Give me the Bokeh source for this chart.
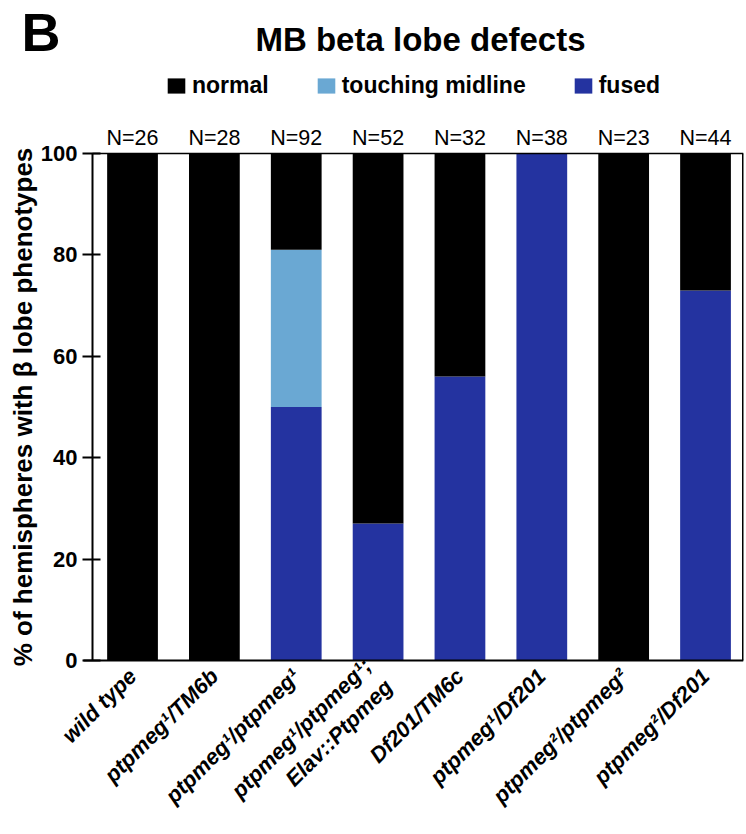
import math
from bokeh.plotting import figure
from bokeh.models import (Range1d, FixedTicker, Legend, LegendItem, ColumnDataSource, LinearAxis)
from bokeh.core.properties import value
from bokeh.embed import file_html
from bokeh.resources import INLINE

# ---- data ----
genotypes = ["wild type", "ptpmeg\u00b9/TM6b", "ptpmeg\u00b9/ptpmeg\u00b9",
             "ptpmeg\u00b9/ptpmeg\u00b9;\nElav::Ptpmeg", "Df201/TM6c",
             "ptpmeg\u00b9/Df201", "ptpmeg\u00b2/ptpmeg\u00b2", "ptpmeg\u00b2/Df201"]
n_counts = [26, 28, 92, 52, 32, 38, 23, 44]
fused = [0, 0, 50, 27, 56, 100, 0, 73]
touching = [0, 0, 31, 0, 0, 0, 0, 0]
normal = [100, 100, 19, 73, 44, 0, 100, 27]
y_ticks = [0, 20, 40, 60, 80, 100]
series_names = ["normal", "touching midline", "fused"]
title_text = "MB beta lobe defects"
panel_letter = "B"

FONT = "Liberation Sans"
C_NORMAL = "#000000"
C_TOUCH = "#6aa8d3"
C_FUSED = "#2433a0"

# ---- layout constants (pixels) ----
W, H = 745, 833
AXIS_PX = 92          # y axis position
FRAME_R = 743         # right edge of the plotting box
Y100_PX, Y0_PX = 153, 660
X_AXIS, X_HI = -0.489, 7.464   # category-space positions of the left axis and right edge

px_x = (FRAME_R - AXIS_PX) / (X_HI - X_AXIS)
px_y = (Y0_PX - Y100_PX) / 100.0
x_lo = X_AXIS - AXIS_PX / px_x
y_top = 100 + Y100_PX / px_y
y_lo = -(H - Y0_PX) / px_y


def sx(px):
    return x_lo + px / px_x


def sy(py):
    return y_top - py / px_y


xs = list(range(len(genotypes)))
src = ColumnDataSource(dict(x=xs, fused=fused, touching=touching, normal=normal))

p = figure(width=W, height=H, output_backend="svg", toolbar_location=None,
           x_range=Range1d(x_lo, X_HI), y_range=Range1d(y_lo, y_top),
           x_axis_location=None, y_axis_location=None,
           min_border_left=0, min_border_right=W - FRAME_R, min_border_top=0,
           min_border_bottom=0)
p.background_fill_color = "white"
p.border_fill_color = "white"
p.outline_line_color = None
p.xgrid.visible = False
p.ygrid.visible = False

rs = p.vbar_stack(["fused", "touching", "normal"], x="x", width=0.62, source=src,
                  color=[C_FUSED, C_TOUCH, C_NORMAL], line_color=None)

# box lines at top (y = 100) and right
p.segment(x0=[X_AXIS, X_HI], y0=[100, 0], x1=[X_HI, X_HI], y1=[100, 100],
          line_color="black", line_width=[1.5, 3])

# N labels just above the bars
p.text(x=xs, y=[sy(137)] * len(xs), text=[f"N={n}" for n in n_counts],
       text_font=value(FONT), text_font_size="21.5px", text_color="black",
       text_align="center", text_baseline="middle")

# panel letter and title
p.text(x=[sx(21)], y=[sy(31)], text=[panel_letter], text_font=value(FONT),
       text_font_style="bold", text_font_size="54px", text_color="black",
       text_align="left", text_baseline="middle")
p.text(x=[sx(420)], y=[sy(38.5)], text=[title_text], text_font=value(FONT),
       text_font_style="bold", text_font_size="33px", text_color="black",
       text_align="center", text_baseline="middle")

legend = Legend(items=[LegendItem(label=series_names[0], renderers=[rs[2]]),
                       LegendItem(label=series_names[1], renderers=[rs[1]]),
                       LegendItem(label=series_names[2], renderers=[rs[0]])],
                orientation="horizontal", location=(165, H - 99),
                glyph_width=22, glyph_height=19, label_standoff=5, spacing=46,
                padding=0, margin=0, border_line_color=None,
                background_fill_alpha=0,
                label_text_font=FONT, label_text_font_style="bold",
                label_text_font_size="23px", label_text_color="black")
p.add_layout(legend, "center")

# y axis fixed at the left edge of the bars' box
yax = LinearAxis(fixed_location=X_AXIS)
yax.ticker = FixedTicker(ticks=y_ticks)
yax.bounds = (0, 100)
yax.minor_tick_line_color = None
yax.major_tick_out = 10
yax.major_tick_in = 8
yax.major_tick_line_width = 2
yax.axis_line_width = 2
yax.major_label_text_font = FONT
yax.major_label_text_font_style = "bold"
yax.major_label_text_font_size = "22px"
yax.major_label_text_color = "black"
yax.major_label_standoff = 5
yax.axis_label = "% of hemispheres with \u03b2 lobe phenotypes"
yax.axis_label_text_font = FONT
yax.axis_label_text_font_style = "bold"
yax.axis_label_text_font_size = "26px"
yax.axis_label_text_color = "black"
yax.axis_label_standoff = 0
p.add_layout(yax, "left")

# x axis fixed at y = 0
xax = LinearAxis(fixed_location=0)
xax.ticker = FixedTicker(ticks=xs)
xax.bounds = (X_AXIS - 0.11, X_HI)
xax.major_label_overrides = {i: g for i, g in enumerate(genotypes)}
xax.major_label_orientation = math.pi / 4
xax.major_tick_line_color = None
xax.minor_tick_line_color = None
xax.axis_line_width = 2
xax.major_label_text_font = FONT
xax.major_label_text_font_style = "bold italic"
xax.major_label_text_font_size = "22px"
xax.major_label_text_color = "black"
xax.major_label_standoff = 6
p.add_layout(xax, "below")

open("out.html", "w").write(file_html(p, INLINE))
